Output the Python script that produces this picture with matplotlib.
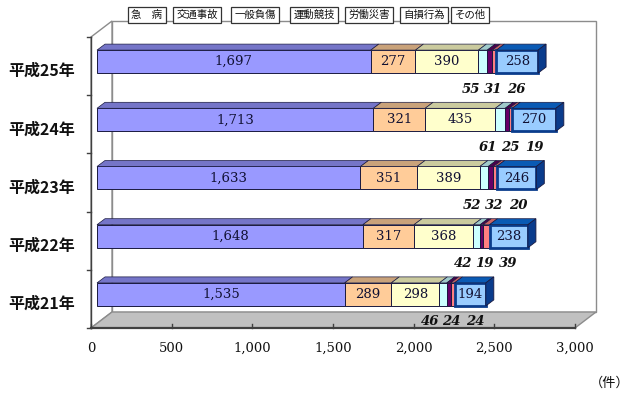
import matplotlib
matplotlib.use("Agg")
import matplotlib.pyplot as plt
from matplotlib.patches import Polygon

plt.rcParams['font.family'] = ['Noto Sans CJK JP', 'DejaVu Sans']

# ---- data ----
categories = ['平成25年', '平成24年', '平成23年', '平成22年', '平成21年']
series_names = ['急\u3000病', '交通事故', '一般負傷', '運動競技', '労働災害', '自損行為', 'その他']
kyubyo   = [1697, 1713, 1633, 1648, 1535]
kotsu    = [277, 321, 351, 317, 289]
ippan    = [390, 435, 389, 368, 298]
undo     = [55, 61, 52, 42, 46]
rodo     = [31, 25, 32, 19, 24]
jison    = [26, 19, 20, 39, 24]
sonota   = [258, 270, 246, 238, 194]
x_ticks = [0, 500, 1000, 1500, 2000, 2500, 3000]
unit_label = '（件）'

series = [kyubyo, kotsu, ippan, undo, rodo, jison, sonota]
front_colors = ['#9999FF', '#FFCC99', '#FFFFCC', '#CCFFFF', '#660066', '#FF8080', '#99CCFF']
top_colors   = ['#7575C8', '#C9A27A', '#CACA9E', '#9FCACA', '#4C004C', '#C86464', '#0A5AB4']
side_color = '#0A3C8C'

W, H = 638, 401
fig = plt.figure(figsize=(W / 100, H / 100), dpi=100)
fx0, fx1, fy_top, fy_bot = 91, 575, 37, 328
ax = fig.add_axes([fx0 / W, (H - fy_bot) / H, (fx1 - fx0) / W, (fy_bot - fy_top) / H])
xmax = 3000
n = len(categories)
ax.set_xlim(0, xmax)
ax.set_ylim(-0.5, n - 0.5)
ax.axis('off')

sx = (fx1 - fx0) / xmax          # px per x unit
sy = (fy_bot - fy_top) / n       # px per category unit


def P(x, y, dx=0.0, dy=0.0):
    return (x + dx / sx, y + dy / sy)


def poly(pts, **kw):
    p = Polygon(pts, closed=True, clip_on=False, **kw)
    ax.add_patch(p)
    return p


# ---- walls & floor ----
WX, WY = 21, 16
ymin, ymax = -0.5, n - 0.5
poly([P(0, ymin, WX, WY), P(xmax, ymin, WX, WY), P(xmax, ymax, WX, WY), P(0, ymax, WX, WY)],
     facecolor='white', edgecolor='#8C8C8C', lw=1.0, zorder=1)
poly([P(0, ymin), P(0, ymin, WX, WY), P(0, ymax, WX, WY), P(0, ymax)],
     facecolor='white', edgecolor='#8C8C8C', lw=1.0, zorder=1)
poly([P(0, ymin), P(xmax, ymin), P(xmax, ymin, WX, WY), P(0, ymin, WX, WY)],
     facecolor='#C0C0C0', edgecolor='#8C8C8C', lw=1.0, zorder=1.5)
ax.plot([0, xmax], [ymin, ymin], color='#404040', lw=1.6, clip_on=False, zorder=2)
ax.plot([0, 0], [ymin, ymax], color='#404040', lw=1.0, clip_on=False, zorder=2)
for t in x_ticks:
    ax.plot([t, t], [ymin, ymin + 4 / sy], color='#404040', lw=1.0, clip_on=False, zorder=2)
    ax.text(t, ymin - 20 / sy, f'{t:,}', ha='center', va='center', fontsize=9.5,
            family='DejaVu Serif', color='#111111')
for k in range(n + 1):
    yb = -0.5 + k
    ax.plot([-4 / sx, 0], [yb, yb], color='#404040', lw=1.0, clip_on=False, zorder=2)

# ---- bars ----
BX, BY = 6, 4.5
DX, DY = 8, 6
bh = 23 / sy
for i, cat in enumerate(categories):
    yc = n - 1 - i
    ybot, ytop = yc - bh / 2, yc + bh / 2
    left = 0
    segs = []
    for s, vals in enumerate(series):
        v = vals[i]
        l, r = left, left + v
        segs.append((l, r))
        ec = '#0A3C8C' if s == 6 else '#1A1A40'
        poly([P(l, ybot, BX, BY), P(r, ybot, BX, BY), P(r, ytop, BX, BY), P(l, ytop, BX, BY)],
             facecolor=front_colors[s], edgecolor=ec, lw=2.0 if s == 6 else 0.7, zorder=3,
             joinstyle='miter')
        poly([P(l, ytop, BX, BY), P(r, ytop, BX, BY), P(r, ytop, BX + DX, BY + DY),
              P(l, ytop, BX + DX, BY + DY)],
             facecolor=top_colors[s], edgecolor='#1A1A40', lw=0.5, zorder=3)
        left = r
    poly([P(left, ybot, BX, BY), P(left, ybot, BX + DX, BY + DY), P(left, ytop, BX + DX, BY + DY),
          P(left, ytop, BX, BY)],
         facecolor=side_color, edgecolor='#1A1A40', lw=0.6, zorder=3)
    for s in (0, 1, 2, 6):
        l, r = segs[s]
        xc, yy = P((l + r) / 2, yc, BX, BY)
        ax.text(xc, yy, f'{series[s][i]:,}', ha='center', va='center', fontsize=9.5,
                family='DejaVu Serif', color='#111133', zorder=5)
    l, r = segs[4]
    for s, off in zip((3, 4, 5), (-19, 3, 27)):
        xx, yy = P((l + r) / 2, ybot, BX + off, BY - 16)
        ax.text(xx, yy, f'{series[s][i]:,}', ha='center', va='center', fontsize=9.5,
                family='DejaVu Serif', style='italic', weight='bold', color='#111111', zorder=5)
    ax.text(-49 / sx, yc - 5 / sy, cat, ha='center', va='center', fontsize=11.5,
            weight='bold', color='#111111', clip_on=False)

# ---- legend boxes ----
leg_x = [147, 197, 255, 314, 369, 424, 470]
for name, xp in zip(series_names, leg_x):
    fig.text(xp / W, 1 - 15 / H, name, ha='center', va='center', fontsize=7.5, color='#111111',
             bbox=dict(boxstyle='square,pad=0.3', facecolor='white', edgecolor='#333333', lw=0.9))

fig.text(610 / W, 1 - 383 / H, unit_label, ha='center', va='center', fontsize=9.5, color='#111111')

fig.savefig('out.png', dpi=100, facecolor='white')
